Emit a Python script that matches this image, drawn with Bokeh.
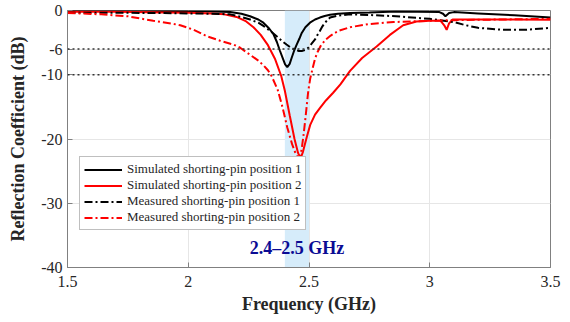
from bokeh.plotting import figure
from bokeh.models import Span, FixedTicker, Range1d
from bokeh.core.properties import value
from bokeh.embed import file_html
from bokeh.resources import INLINE

# ---------------- data ----------------
x_ticks = [1.5, 2, 2.5, 3, 3.5]
x_tick_labels = ["1.5", "2", "2.5", "3", "3.5"]
y_ticks = [-40, -30, -20, -10, -6, 0]
y_tick_labels = ["-40", "-30", "-20", "-10", "-6", "0"]
ref_levels = [-6, -10]
band_lo, band_hi = 2.4, 2.5
band_label = "2.4–2.5 GHz"
band_label_y = -36.9

sim1_f = [1.5, 1.8, 2.0, 2.1, 2.174, 2.22, 2.256, 2.29, 2.311, 2.335, 2.353, 2.367, 2.38, 2.392,
          2.401, 2.41, 2.42, 2.428, 2.438, 2.449, 2.46, 2.47, 2.485, 2.504, 2.525, 2.545, 2.565,
          2.587, 2.62, 2.67, 2.75, 2.86, 2.95, 3.04, 3.055, 3.065, 3.08, 3.1, 3.2, 3.35, 3.5]
sim1_db = [-0.05, -0.05, -0.1, -0.15, -0.25, -0.5, -0.9, -1.4, -1.9, -2.8, -3.7, -4.9, -6.3, -7.5,
           -8.4, -8.8, -8.3, -7.4, -6.3, -5.3, -4.4, -3.5, -2.6, -1.9, -1.4, -1.1, -0.85,
           -0.65, -0.5, -0.4, -0.3, -0.15, -0.2, -0.25, -0.5, -0.9, -0.4, -0.25, -0.45, -0.75, -1.1]

sim2_f = [1.5, 1.7, 1.9, 2.0, 2.1, 2.15, 2.2, 2.24, 2.27, 2.3, 2.33, 2.36, 2.385, 2.40, 2.42, 2.44,
          2.455, 2.465, 2.475, 2.49, 2.505, 2.525, 2.545, 2.57, 2.6, 2.63, 2.67, 2.72, 2.78, 2.835,
          2.89, 2.945, 3.0, 3.045, 3.06, 3.07, 3.08, 3.095, 3.2, 3.35, 3.5]
sim2_db = [-0.2, -0.2, -0.3, -0.35, -0.45, -0.6, -1.0, -1.7, -2.6, -3.8, -5.4, -7.6, -10.2, -12.5,
           -16.3, -20.0, -22.2, -23.0, -22.0, -19.8, -17.8, -16.2, -15.2, -14.0, -12.8, -11.5, -9.4,
           -7.4, -5.6, -3.8, -2.3, -1.7, -1.6, -1.6, -2.3, -3.0, -2.0, -1.4, -1.4, -1.4, -1.45]

meas1_f = [1.5, 1.7, 1.9, 2.0, 2.1, 2.174, 2.22, 2.256, 2.29, 2.311, 2.34, 2.366, 2.39, 2.407, 2.425,
           2.442, 2.458, 2.47, 2.485, 2.497, 2.51, 2.525, 2.535, 2.545, 2.555, 2.566, 2.587, 2.62,
           2.67, 2.75, 2.86, 3.0, 3.1, 3.15, 3.2, 3.3, 3.4, 3.5]
meas1_db = [-0.35, -0.35, -0.4, -0.45, -0.5, -0.6, -1.0, -1.4, -1.9, -2.4, -3.2, -4.0, -4.8, -5.3, -5.8,
            -6.1, -6.3, -6.3, -6.15, -5.8, -5.2, -4.5, -3.8, -3.2, -2.5, -1.9, -1.1, -0.8,
            -0.6, -0.7, -0.9, -1.3, -1.8, -2.3, -2.7, -3.0, -3.0, -2.7]

meas2_f = [1.5, 1.55, 1.64, 1.75, 1.855, 1.94, 1.967, 2.022, 2.077, 2.132, 2.187, 2.215, 2.256, 2.29,
           2.311, 2.33, 2.345, 2.37, 2.39, 2.41, 2.43, 2.445, 2.455, 2.462, 2.47, 2.478, 2.486, 2.497,
           2.505, 2.515, 2.525, 2.535, 2.55, 2.57, 2.59, 2.62, 2.67, 2.75, 2.85, 3.0, 3.1, 3.3, 3.5]
meas2_db = [-0.4, -0.45, -0.6, -0.9, -1.6, -2.1, -2.3, -3.0, -4.0, -4.7, -5.3, -5.8, -6.9, -7.8,
            -8.5, -9.3, -10.2, -12.3, -15.0, -18.2, -20.8, -22.3, -22.9, -23.0, -21.5, -19.2, -16.5, -12.5,
            -10.6, -9.0, -7.5, -6.5, -5.4, -4.5, -3.9, -3.2, -2.6, -2.1, -1.8, -1.6, -1.5, -1.4, -1.3]

series = [
    ("Simulated shorting-pin position 1", sim1_f, sim1_db, "black", "solid"),
    ("Simulated shorting-pin position 2", sim2_f, sim2_db, "#ff0000", "solid"),
    ("Measured shorting-pin position 1", meas1_f, meas1_db, "black", "8 3 2 3"),
    ("Measured shorting-pin position 2", meas2_f, meas2_db, "#ff0000", "8 3 2 3"),
]

# ---------------- figure ----------------
SERIF = "Liberation Serif"
p = figure(width=570, height=322, output_backend="svg", toolbar_location=None,
           x_range=Range1d(x_ticks[0], x_ticks[-1]), y_range=Range1d(y_ticks[0], y_ticks[-1]),
           min_border_left=67, min_border_right=20, min_border_top=10, min_border_bottom=55)
p.background_fill_color = "white"
p.border_fill_color = "white"
p.outline_line_color = "#808080"
p.outline_line_width = 1

# shaded band
p.quad(left=[band_lo], right=[band_hi], bottom=[y_ticks[0]], top=[y_ticks[-1]],
       fill_color="#d6ecfa", line_color=None)

# reference dotted lines
for lv in ref_levels:
    p.add_layout(Span(location=lv, dimension="width", line_color="#333333",
                      line_width=1.6, line_dash="2 3"))

for name, f, db, color, dash in series:
    p.line(f, db, line_color=color, line_width=2, line_dash=dash, legend_label=name)

p.text(x=[(band_lo + band_hi) / 2], y=[band_label_y], text=[band_label],
       text_font=value(SERIF), text_font_style="bold", text_font_size="18px",
       text_color="#0b0b94", text_align="center", text_baseline="middle")

# axes
xt = FixedTicker(ticks=x_ticks)
yt = FixedTicker(ticks=y_ticks)
for ax, tk, labels in ((p.xaxis[0], xt, x_tick_labels), (p.yaxis[0], yt, y_tick_labels)):
    ax.ticker = tk
    ax.major_label_overrides = {t: l for t, l in zip(tk.ticks, labels)}
    ax.major_label_text_font = SERIF
    ax.major_label_text_font_size = "16px"
    ax.major_label_text_color = "#262626"
    ax.axis_line_color = "#808080"
    ax.major_tick_line_color = "#808080"
    ax.major_tick_in = 5
    ax.major_tick_out = 0
    ax.minor_tick_line_color = None
    ax.axis_label_text_font = SERIF
    ax.axis_label_text_font_style = "bold"
    ax.axis_label_text_font_size = "18px"
    ax.axis_label_text_color = "#262626"

p.xaxis.axis_label = "Frequency (GHz)"
p.yaxis.axis_label = "Reflection Coefficient (dB)"
p.xaxis.major_label_standoff = 8
p.yaxis.major_label_standoff = 5
p.xaxis.axis_label_standoff = 4
p.yaxis.axis_label_standoff = 10

p.xgrid.ticker = xt
p.ygrid.ticker = yt
p.xgrid.grid_line_color = "#e6e6e6"
p.ygrid.grid_line_color = "#e6e6e6"

# legend
lg = p.legend[0]
lg.location = (12, 37)
lg.label_text_font = SERIF
lg.label_text_font_size = "13px"
lg.label_text_color = "#262626"
lg.glyph_width = 38
lg.glyph_height = 15
lg.label_height = 15
lg.label_standoff = 5
lg.spacing = 0
lg.padding = 4
lg.margin = 0
lg.border_line_color = "#808080"
lg.border_line_width = 1
lg.background_fill_alpha = 1

open("out.html", "w").write(file_html(p, INLINE))
